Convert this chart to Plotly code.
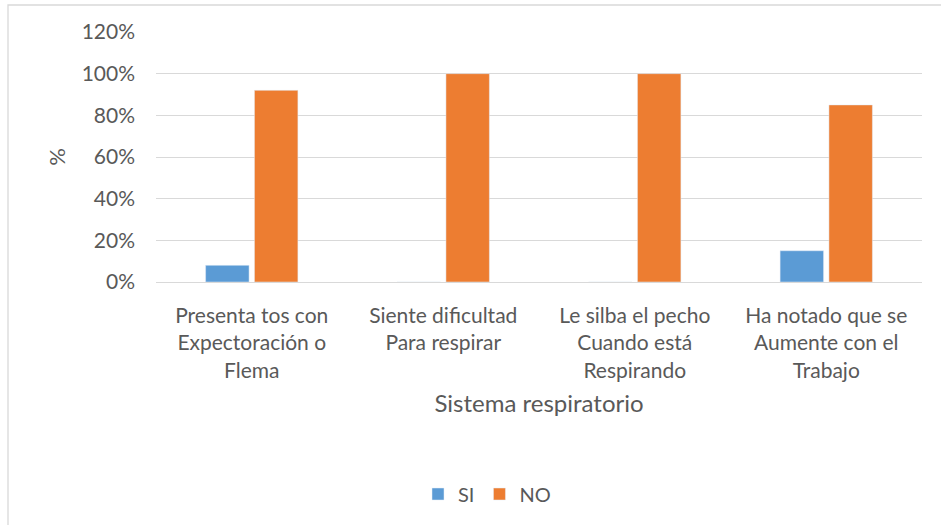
import plotly.graph_objects as go

categories = [
    "Presenta tos con<br>Expectoración o<br>Flema",
    "Siente dificultad<br>Para respirar",
    "Le silba el pecho<br>Cuando está<br>Respirando",
    "Ha notado que se<br>Aumente con el<br>Trabajo",
]
si_values = [0.08, 0.0, 0.0, 0.15]
no_values = [0.92, 1.00, 1.00, 0.85]
y_ticks = [0, 0.2, 0.4, 0.6, 0.8, 1.0, 1.2]
y_labels = ["0%", "20%", "40%", "60%", "80%", "100%", "120%"]

W, H = 941, 525
L, R, T, B = 156, 19, 32, 243
PW, PH = W - L - R, H - T - B

def px(x):
    return (x - L) / PW

def py(y):
    return (H - B - y) / PH

FONT = "Lato"
GRAY = "#595959"

fig = go.Figure()
fig.add_bar(name="SI", x=categories, y=si_values, marker_color="#5B9BD5")
fig.add_bar(name="NO", x=categories, y=no_values, marker_color="#ED7D31")

fig.update_layout(
    width=W, height=H,
    margin=dict(l=L, r=R, t=T, b=B, autoexpand=False),
    paper_bgcolor="white", plot_bgcolor="white",
    barmode="group", bargap=0.49, bargroupgap=0.11,
    font=dict(family=FONT, size=20, color=GRAY),
    showlegend=True,
    legend=dict(orientation="h", x=0.5 - 52 / PW, xanchor="center", y=py(494), yanchor="middle",
                font=dict(size=20, color=GRAY), itemwidth=30, traceorder="normal"),
    xaxis=dict(
        title=dict(text="Sistema respiratorio", font=dict(size=24, color=GRAY), standoff=14),
        showgrid=False, showline=False, zeroline=False, ticks="",
        tickfont=dict(size=21, color=GRAY), ticklabelstandoff=19,
    ),
    yaxis=dict(
        title=dict(text="%", font=dict(size=22, color=GRAY), standoff=9),
        range=[0, 1.2], tickvals=y_ticks, ticktext=y_labels,
        showgrid=True, gridcolor="#D9D9D9", gridwidth=1.3,
        zeroline=True, zerolinecolor="#D9D9D9", zerolinewidth=1.3,
        showline=False, ticks="",
        tickfont=dict(size=21, color=GRAY), ticklabelstandoff=20,
    ),
    shapes=[dict(type="rect", xref="paper", yref="paper",
                 x0=px(8), x1=px(960), y0=py(545), y1=py(5),
                 line=dict(color="#D9D9D9", width=1.3), fillcolor="rgba(0,0,0,0)", layer="below")],
)

fig.write_html("out.html", config={"displayModeBar": False},
               post_script="document.body.style.margin='0';")
